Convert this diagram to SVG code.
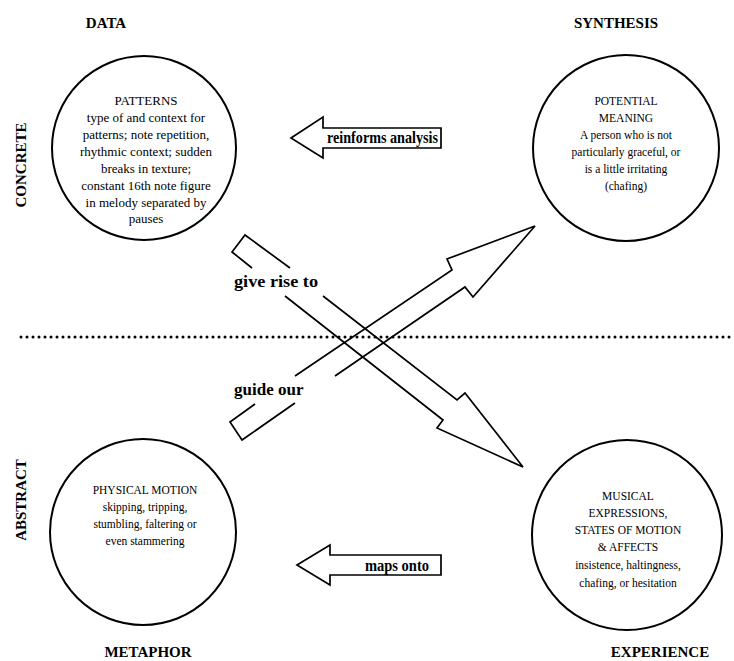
<svg xmlns="http://www.w3.org/2000/svg" width="734" height="661" viewBox="0 0 734 661">
<style>
.bg{fill:#fff}
.node{fill:#fff;stroke:#000;stroke-width:2}
.title{font-family:"Liberation Serif",serif;font-weight:bold;font-size:15px;fill:#000;text-anchor:middle}
.body{font-family:"Liberation Serif",serif;font-size:13px;fill:#000;text-anchor:middle}
.small{font-family:"Liberation Serif",serif;font-size:11.5px;fill:#000;text-anchor:middle}
.lbl{font-family:"Liberation Serif",serif;font-weight:bold;font-size:17px;fill:#000}
.arr{fill:none;stroke:#000;stroke-width:1.7;stroke-linejoin:miter}
.dots{stroke:#000;stroke-width:3;stroke-dasharray:0 6;stroke-linecap:round}
</style>
<rect class="bg" width="734" height="661"/>
<g id="axis-labels">
<text class="title" x="106" y="28">DATA</text>
<text class="title" x="616" y="28">SYNTHESIS</text>
<text class="title" x="148" y="657">METAPHOR</text>
<text class="title" x="660" y="657">EXPERIENCE</text>
<text class="title" transform="translate(26,165) rotate(-90)">CONCRETE</text>
<text class="title" transform="translate(26,500) rotate(-90)">ABSTRACT</text>
</g>
<line class="dots" x1="21" y1="337" x2="734" y2="337"/>
<g id="connectors">
<g id="reinforms">
<polygon class="arr" points="291,138 323,117 323,128 441,128 441,148 323,148 323,158"/>
<text class="lbl" x="327" y="143" font-size="16" textLength="111" lengthAdjust="spacingAndGlyphs">reinforms analysis</text>
</g>
<g id="give-rise">
<polyline class="arr" points="290,268 245,235 232,252 252,268"/>
<polyline class="arr" points="285,296 443,420 437,428 523,467 465,393 457,400 323,296"/>
<text class="lbl" x="234" y="287" textLength="84" lengthAdjust="spacingAndGlyphs">give rise to</text>
</g>
<g id="guide-our">
<polyline class="arr" points="255,404 230,422 242,440 295,403"/>
<polyline class="arr" points="335,376 465,287 473,297 535,226 447,259 452,270 295,376"/>
<text class="lbl" x="234" y="395">guide our</text>
</g>
<g id="maps-onto">
<polygon class="arr" points="297,565 330,545 330,555 441,555 441,575 330,575 330,585"/>
<text class="lbl" x="365" y="571" font-size="16" textLength="64" lengthAdjust="spacingAndGlyphs">maps onto</text>
</g>
</g>
<g id="patterns">
<circle class="node" cx="144" cy="148" r="92"/>
<text class="body" x="146" y="105">PATTERNS</text>
<text class="body" x="146" y="122">type of and context for</text>
<text class="body" x="146" y="139">patterns; note repetition,</text>
<text class="body" x="146" y="156">rhythmic context; sudden</text>
<text class="body" x="146" y="173">breaks in texture;</text>
<text class="body" x="146" y="190">constant 16th note figure</text>
<text class="body" x="146" y="207">in melody separated by</text>
<text class="body" x="146" y="223">pauses</text>
</g>
<g id="potential-meaning">
<circle class="node" cx="626" cy="148" r="93"/>
<text class="small" x="626" y="105">POTENTIAL</text>
<text class="small" x="626" y="122">MEANING</text>
<text class="small" x="626" y="139">A person who is not</text>
<text class="small" x="626" y="156">particularly graceful, or</text>
<text class="small" x="626" y="173">is a little irritating</text>
<text class="small" x="626" y="190">(chafing)</text>
</g>
<g id="physical-motion">
<circle class="node" cx="143" cy="532" r="93"/>
<text class="small" x="145" y="494">PHYSICAL MOTION</text>
<text class="small" x="145" y="511">skipping, tripping,</text>
<text class="small" x="145" y="528">stumbling, faltering or</text>
<text class="small" x="145" y="545">even stammering</text>
</g>
<g id="musical-expressions">
<circle class="node" cx="627" cy="535" r="95"/>
<text class="small" x="628" y="500">MUSICAL</text>
<text class="small" x="628" y="517">EXPRESSIONS,</text>
<text class="small" x="628" y="534">STATES OF MOTION</text>
<text class="small" x="628" y="551">&amp; AFFECTS</text>
<text class="small" x="628" y="569">insistence, haltingness,</text>
<text class="small" x="628" y="587">chafing, or hesitation</text>
</g>
</svg>
